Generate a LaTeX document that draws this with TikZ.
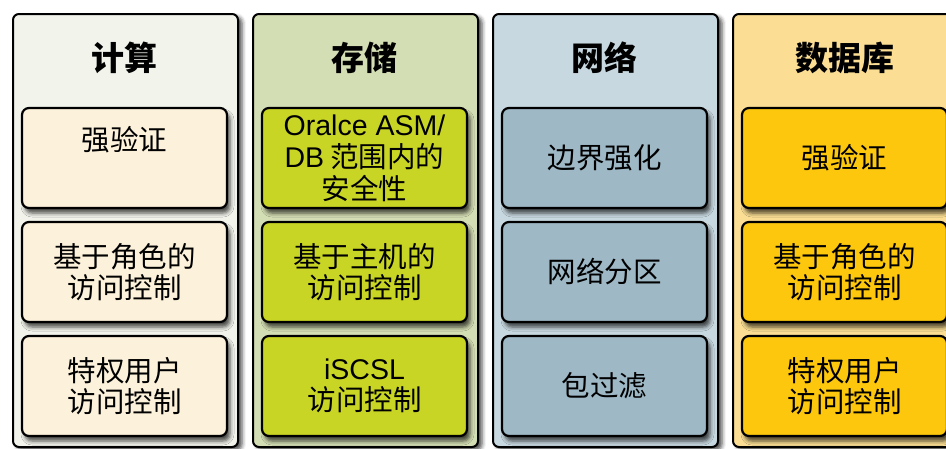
\documentclass[tikz,border=0pt]{standalone}
\usepackage{fontspec}
\setmainfont{Noto Sans CJK SC}
\newfontfamily\latinfont{Liberation Sans}
\usetikzlibrary{shadows.blur}
\definecolor{outA}{HTML}{F2F4EC}
\definecolor{inA}{HTML}{FCF1DA}
\definecolor{outB}{HTML}{D4DEB4}
\definecolor{inB}{HTML}{C9D524}
\definecolor{outC}{HTML}{C8D8E0}
\definecolor{inC}{HTML}{9EB8C6}
\definecolor{outD}{HTML}{FBDE94}
\definecolor{inD}{HTML}{FCC70D}
\tikzset{
  column/.style={draw=black, line width=2pt, rounded corners=6pt,
    minimum width=225pt, minimum height=433pt, inner sep=0pt, anchor=north west,
    blur shadow={shadow xshift=4pt, shadow yshift=-3pt, shadow blur radius=4pt, shadow opacity=70}},
  title/.style={font=\fontsize{33}{36}\selectfont\bfseries},
  item/.style={draw=black, line width=2.2pt, rounded corners=7pt,
    minimum width=205pt, minimum height=100pt, inner sep=0pt, align=center,
    font=\fontsize{28.5}{30.5}\selectfont,
    blur shadow={shadow xshift=3pt, shadow yshift=-5pt, shadow blur radius=4pt, shadow opacity=70}}
}
\begin{document}
\begin{tikzpicture}[x=1pt, y=-1pt]
\useasboundingbox (0,0) rectangle (946,448);
\clip (0,0) rectangle (946,448);
% columns
\node[column, fill=outA] (c1) at (12,13) {};
\node[column, fill=outB] (c2) at (252,13) {};
\node[column, fill=outC] (c3) at (492,13) {};
\node[column, fill=outD] (c4) at (732,13) {};
% titles
\node[title] (t1) at (124.5,58) {计算};
\node[title] (t2) at (364.5,58) {存储};
\node[title] (t3) at (604.5,58) {网络};
\node[title] (t4) at (844.5,58) {数据库};
% compute
\node[item, fill=inA] (a1) at (124.5,158) {强验证\\\strut};
\node[item, fill=inA] (a2) at (124.5,272) {基于角色的\\访问控制};
\node[item, fill=inA] (a3) at (124.5,386) {特权用户\\访问控制};
% storage
\node[item, fill=inB, font=\fontsize{28.5}{32}\selectfont] (b1) at (364.5,158) {{\latinfont Oralce ASM/}\\{\latinfont DB} 范围内的\\安全性};
\node[item, fill=inB] (b2) at (364.5,272) {基于主机的\\访问控制};
\node[item, fill=inB] (b3) at (364.5,386) {{\latinfont iSCSL}\\访问控制};
% network
\node[item, fill=inC] (n1) at (604.5,158) {边界强化};
\node[item, fill=inC] (n2) at (604.5,272) {网络分区};
\node[item, fill=inC] (n3) at (604.5,386) {包过滤};
% database
\node[item, fill=inD] (d1) at (844.5,158) {强验证};
\node[item, fill=inD] (d2) at (844.5,272) {基于角色的\\访问控制};
\node[item, fill=inD] (d3) at (844.5,386) {特权用户\\访问控制};
\end{tikzpicture}
\end{document}
